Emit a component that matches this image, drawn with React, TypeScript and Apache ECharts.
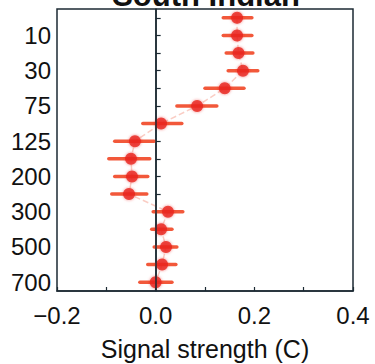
import React, { useEffect, useRef } from "react";
import * as echarts from "echarts";

const depths = ["0", "10", "20", "30", "50", "75", "100", "125", "150", "200", "250", "300", "400", "500", "600", "700"];
const means = [0.165, 0.165, 0.168, 0.177, 0.14, 0.084, 0.011, -0.042, -0.05, -0.048, -0.054, 0.025, 0.011, 0.021, 0.013, 0.0];
const lows = [0.137, 0.137, 0.143, 0.147, 0.1, 0.043, -0.026, -0.083, -0.095, -0.083, -0.089, -0.005, -0.008, -0.003, -0.016, -0.032];
const highs = [0.195, 0.195, 0.197, 0.207, 0.179, 0.124, 0.053, -0.003, -0.012, -0.016, -0.018, 0.055, 0.033, 0.043, 0.041, 0.033];
const xTickLabels: Record<string, string> = { "-0.2": "\u22120.2", "0": "0.0", "0.2": "0.2", "0.4": "0.4" };
const title = "South Indian";
const xTitle = "Signal strength (C)";

const AXIS = "#1c2a33";
const FONT = "Liberation Sans, Arial, sans-serif";

export default function App() {
  const ref = useRef<HTMLDivElement>(null);
  useEffect(() => {
    if (!ref.current) return;
    const chart = echarts.init(ref.current, undefined, { renderer: "svg" });
    const errData = depths.map((d, i) => [lows[i], highs[i], i]);
    const ptData = depths.map((d, i) => [means[i], i]);
    chart.setOption({
      animation: false,
      backgroundColor: "#ffffff",
      grid: {
        left: 57,
        right: 22,
        top: 9,
        bottom: 73,
        show: true,
        borderColor: AXIS,
        borderWidth: 1.5,
        backgroundColor: "transparent",
      },
      xAxis: {
        type: "value",
        min: -0.2,
        max: 0.4,
        interval: 0.1,
        axisLine: { show: true, lineStyle: { color: AXIS, width: 1.5 } },
        axisTick: { show: true, inside: true, length: 4, lineStyle: { color: AXIS, width: 1.2 } },
        splitLine: { show: false },
        axisLabel: {
          margin: 12,
          fontSize: 24,
          fontFamily: FONT,
          color: "#111",
          formatter: (v: number) => {
            const k = String(Math.round(v * 10) / 10);
            return xTickLabels[k] ?? "";
          },
        },
      },
      yAxis: {
        type: "category",
        inverse: true,
        data: depths,
        axisLine: { show: true, lineStyle: { color: AXIS, width: 1.5 } },
        axisTick: { show: true, inside: true, length: 5, alignWithLabel: true, interval: 0, lineStyle: { color: AXIS, width: 1.2 } },
        splitLine: { show: false },
        axisLabel: {
          margin: 6,
          fontSize: 24,
          fontFamily: FONT,
          color: "#111",
          interval: (index: number) => index % 2 === 1,
        },
      },
      graphic: [
        {
          type: "text",
          x: 206,
          y: 11,
          style: {
            text: title,
            align: "center",
            verticalAlign: "bottom",
            fontSize: 31,
            fontWeight: "bold",
            fontFamily: FONT,
            fill: "#111",
          },
        },
        {
          type: "text",
          x: 205,
          y: 349,
          style: {
            text: xTitle,
            align: "center",
            verticalAlign: "middle",
            fontSize: 25,
            fontFamily: FONT,
            fill: "#111",
          },
        },
      ],
      series: [
        {
          type: "line",
          data: ptData,
          symbol: "none",
          lineStyle: { color: "rgba(240,90,60,0.3)", width: 1.5, type: "dashed" },
          z: 1,
          markLine: {
            silent: true,
            symbol: "none",
            label: { show: false },
            lineStyle: { color: AXIS, width: 1.5, type: "solid" },
            data: [{ xAxis: 0 }],
          },
        },
        {
          type: "custom",
          data: errData,
          encode: { x: [0, 1], y: 2 },
          z: 3,
          renderItem: (params: any, api: any) => {
            const p1 = api.coord([api.value(0), api.value(2)]);
            const p2 = api.coord([api.value(1), api.value(2)]);
            return {
              type: "line",
              shape: { x1: p1[0], y1: p1[1], x2: p2[0], y2: p2[1] },
              style: { stroke: "#f2583a", lineWidth: 3.5, lineCap: "round" },
            };
          },
        },
        {
          type: "scatter",
          data: ptData,
          symbol: "circle",
          symbolSize: 12,
          z: 4,
          itemStyle: { color: "#e8241b", shadowBlur: 3, shadowColor: "rgba(232,36,27,0.6)" },
        },
      ],
    });
    return () => chart.dispose();
  }, []);
  return <div ref={ref} style={{ position: "absolute", left: 0, top: 0, width: 375, height: 364 }} />;
}
